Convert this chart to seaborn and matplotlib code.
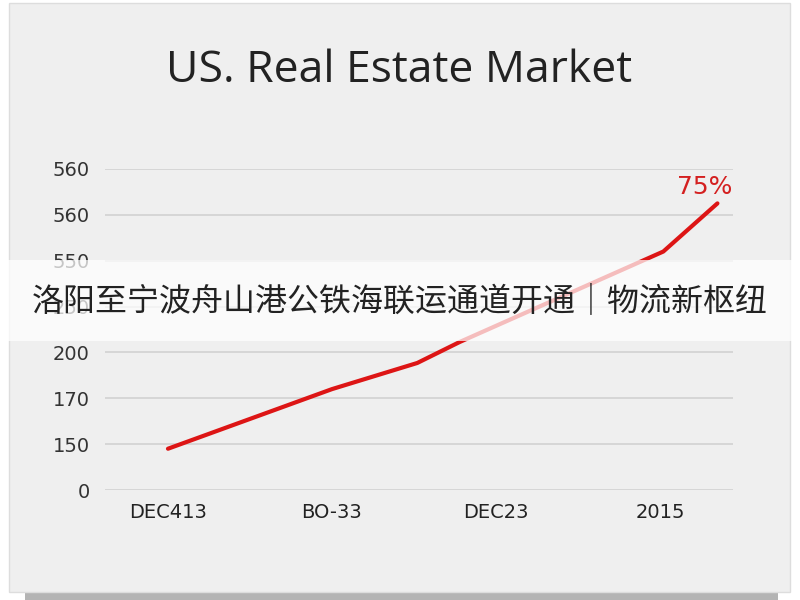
import pandas as pd
import seaborn as sns
import matplotlib.pyplot as plt
from matplotlib.patches import Rectangle

# Данные (ось Y — позиции линий сетки)
x_positions = [0, 1, 1.52, 1.78, 3.02, 3.35]
y_values = [0.9, 2.2, 2.77, 3.23, 5.2, 6.25]
x_tick_labels = ['DEC413', 'BO-33', 'DEC23', '2015']
y_tick_labels = ['0', '150', '170', '200', '250', '550', '560', '560']
end_label = '75%'
title = 'US. Real Estate Market'
banner_text = '洛阳至宁波舟山港公铁海联运通道开通｜物流新枢纽'

sns.set_style('white')
plt.rcParams['font.family'] = ['DejaVu Sans', 'Noto Sans CJK SC']

fig = plt.figure(figsize=(8, 6), dpi=100)
fig.patch.set_facecolor('white')

# Серая подложка с тенью
fig.patches.append(Rectangle((25 / 800, 0), 753 / 800, 10 / 600, transform=fig.transFigure,
                             facecolor='#b4b4b4', edgecolor='none', zorder=-3))
fig.patches.append(Rectangle((9 / 800, 8 / 600), 781 / 800, 589 / 600, transform=fig.transFigure,
                             facecolor='#efefef', edgecolor='#dddddd', lw=1, zorder=-2))

ax = fig.add_axes([105 / 800, 110 / 600, 628 / 800, 321 / 600])
ax.patch.set_alpha(0)

df = pd.DataFrame({'x': x_positions, 'y': y_values})
sns.lineplot(data=df, x='x', y='y', ax=ax, color='#dd1515', lw=3, sort=False,
             solid_capstyle='round', solid_joinstyle='round', zorder=3)
ax.lines[0].set_clip_on(False)

ax.annotate(end_label, (x_positions[-1], y_values[-1]), xytext=(-9, 12),
            textcoords='offset points', ha='center', va='center',
            fontsize=18, color='#d42020')

ax.set_xlim(-0.384, 3.445)
ax.set_ylim(0, 7)
ax.set_yticks(range(len(y_tick_labels)))
ax.set_yticklabels(y_tick_labels)
ax.set_xticks(range(len(x_tick_labels)))
ax.set_xticklabels(x_tick_labels)
ax.set_xticks([0.5, 1.5, 2.5], minor=True)
ax.grid(axis='y', color='#d2d2d2', lw=1.2)
ax.set_xlabel('')
ax.set_ylabel('')
for side in ['top', 'right', 'left', 'bottom']:
    ax.spines[side].set_visible(False)

ax.tick_params(axis='y', length=0, pad=11, labelsize=14, labelcolor='#333333')
ax.tick_params(axis='x', which='major', direction='in', length=3, color='#c8c8c8',
               pad=9, labelsize=14, labelcolor='#222222')
ax.tick_params(axis='x', which='minor', direction='out', length=5, color='#c8c8c8')

fig.text(0.499, 1 - 71 / 600, title, ha='center', va='center', fontsize=32,
         color='#222222', family=['Open Sans', 'DejaVu Sans'])

# Полупрозрачная полоса с подписью
fig.patches.append(Rectangle((0, 1 - 341 / 600), 1, 81 / 600, transform=fig.transFigure,
                             facecolor='white', alpha=0.72, edgecolor='none', zorder=5))
fig.text(0.5, 1 - 301 / 600, banner_text, ha='center', va='center', fontsize=23,
         color='#222222', family=['Noto Sans CJK SC', 'DejaVu Sans'], zorder=6)

fig.savefig('out.png', dpi=100)
